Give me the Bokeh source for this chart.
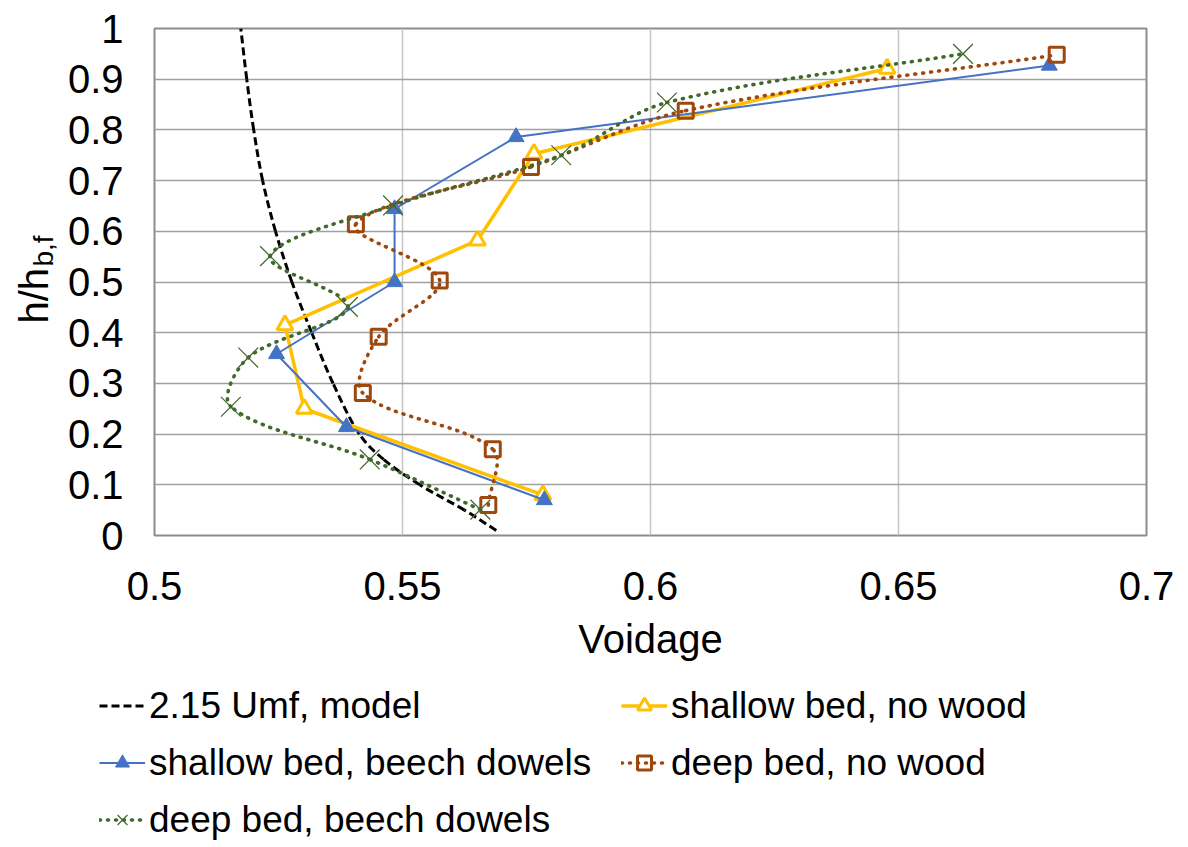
import numpy as np
from bokeh.plotting import figure
from bokeh.layouts import column, row
from bokeh.models import Range1d, FixedTicker, Legend, LegendItem, Label, ColumnDataSource
from bokeh.embed import file_html
from bokeh.resources import INLINE

# ---------------- data ----------------
x_ticks = [0.5, 0.55, 0.6, 0.65, 0.7]
x_tick_labels = ["0.5", "0.55", "0.6", "0.65", "0.7"]
y_ticks = [0, 0.1, 0.2, 0.3, 0.4, 0.5, 0.6, 0.7, 0.8, 0.9, 1.0]
y_tick_labels = ["0", "0.1", "0.2", "0.3", "0.4", "0.5", "0.6", "0.7", "0.8", "0.9", "1"]

model_voidage = [0.5689, 0.5625, 0.5535, 0.5462, 0.5413, 0.5360, 0.5317, 0.5277, 0.5244, 0.5218, 0.5200, 0.5186, 0.5174]
model_h = [0.010, 0.050, 0.100, 0.150, 0.200, 0.300, 0.400, 0.500, 0.600, 0.700, 0.800, 0.900, 1.000]

snw_voidage = [0.5783, 0.5302, 0.5263, 0.5651, 0.5765, 0.6477]
snw_h = [0.080, 0.250, 0.415, 0.582, 0.753, 0.921]

sbd_voidage = [0.5786, 0.5387, 0.5246, 0.5484, 0.5484, 0.5729, 0.6804]
sbd_h = [0.070, 0.214, 0.358, 0.500, 0.644, 0.786, 0.927]

dnw_voidage = [0.5673, 0.5682, 0.5420, 0.5452, 0.5575, 0.5406, 0.5759, 0.6071, 0.6819]
dnw_h = [0.060, 0.170, 0.281, 0.392, 0.503, 0.614, 0.727, 0.838, 0.948]

dbd_voidage = [0.5657, 0.5434, 0.5154, 0.5189, 0.5390, 0.5233, 0.5481, 0.5820, 0.6033, 0.6630]
dbd_h = [0.051, 0.150, 0.254, 0.351, 0.451, 0.551, 0.651, 0.750, 0.854, 0.950]

labels = ["2.15 Umf, model", "shallow bed, no wood", "shallow bed, beech dowels",
          "deep bed, no wood", "deep bed, beech dowels"]

X_MIN, X_MAX = 0.5, 0.7
Y_MIN, Y_MAX = 0.0, 1.0

FONT = "Liberation Sans"
C_MODEL = "#000000"
C_SNW = "#FFC000"
C_SBD = "#4472C4"
C_DNW = "#9E480E"
C_DBD = "#43682B"

# ---------------- layout sizes ----------------
TOTAL_W, TOTAL_H = 1180, 845
YLAB_W = 64
MAIN_H = 675
BORDER_L, BORDER_R, BORDER_T = 89, 34, 28
BORDER_B = 140
MAIN_W = TOTAL_W - YLAB_W
FRAME_W = MAIN_W - BORDER_L - BORDER_R
FRAME_H = MAIN_H - BORDER_T - BORDER_B
KX = FRAME_W / (X_MAX - X_MIN)
KY = FRAME_H / (Y_MAX - Y_MIN)


def smooth_source(xs, ys):
    """Excel-like smoothed line: cubic Bezier control points from the data points
    (chord-length-weighted tangents, measured in screen proportions)."""
    xs = np.asarray(xs, float)
    ys = np.asarray(ys, float)
    n = len(xs)
    xp = np.concatenate([[xs[0]], xs, [xs[-1]]])
    yp = np.concatenate([[ys[0]], ys, [ys[-1]]])
    d = np.hypot(np.diff(xp) * KX, np.diff(yp) * KY)
    cx0, cy0, cx1, cy1 = [], [], [], []
    for i in range(n - 1):
        k = i + 1
        d01, d12, d23 = d[k - 1], d[k], d[k + 1]
        f1 = d12 / (d01 + d12) / 3.0 if d01 + d12 > 0 else 0.0
        f2 = d12 / (d12 + d23) / 3.0 if d12 + d23 > 0 else 0.0
        cx0.append(xp[k] + (xp[k + 1] - xp[k - 1]) * f1)
        cy0.append(yp[k] + (yp[k + 1] - yp[k - 1]) * f1)
        cx1.append(xp[k + 1] - (xp[k + 2] - xp[k]) * f2)
        cy1.append(yp[k + 1] - (yp[k + 2] - yp[k]) * f2)
    return ColumnDataSource(dict(x0=xs[:-1], y0=ys[:-1], x1=xs[1:], y1=ys[1:],
                                 cx0=cx0, cy0=cy0, cx1=cx1, cy1=cy1))


# ---------------- main plot ----------------
p = figure(width=MAIN_W, height=MAIN_H, output_backend="svg", toolbar_location=None,
           x_range=Range1d(X_MIN, X_MAX), y_range=Range1d(Y_MIN, Y_MAX),
           min_border_left=BORDER_L, min_border_right=BORDER_R,
           min_border_top=BORDER_T, min_border_bottom=BORDER_B)
p.background_fill_color = "white"
p.border_fill_color = "white"
p.outline_line_color = "#8C8C8C"
p.outline_line_width = 2

p.xaxis.ticker = FixedTicker(ticks=x_ticks)
p.yaxis.ticker = FixedTicker(ticks=y_ticks)
p.xaxis.major_label_overrides = {t: l for t, l in zip(x_ticks, x_tick_labels)}
p.yaxis.major_label_overrides = {t: l for t, l in zip(y_ticks, y_tick_labels)}
for ax in (p.xaxis[0], p.yaxis[0]):
    ax.axis_line_color = None
    ax.major_tick_line_color = None
    ax.minor_tick_line_color = None
    ax.major_tick_out = 0
    ax.major_tick_in = 0
    ax.major_label_text_font = FONT
    ax.major_label_text_font_size = "40px"
    ax.major_label_text_color = "black"
p.xaxis.major_label_standoff = 36
p.yaxis.major_label_standoff = 31
p.xaxis.axis_label = "Voidage"
p.xaxis.axis_label_text_font = FONT
p.xaxis.axis_label_text_font_size = "40px"
p.xaxis.axis_label_text_font_style = "normal"
p.xaxis.axis_label_text_color = "black"
p.xaxis.axis_label_standoff = 14

p.xgrid.grid_line_color = "#C4C4C4"
p.xgrid.grid_line_width = 1.5
p.ygrid.grid_line_color = "#A0A0A0"
p.ygrid.grid_line_width = 1.5

BEZ = dict(x0="x0", y0="y0", x1="x1", y1="y1", cx0="cx0", cy0="cy0", cx1="cx1", cy1="cy1")

STY_MODEL = dict(line_color=C_MODEL, line_width=3, line_dash="8 4")
STY_SNW_L = dict(line_color=C_SNW, line_width=3.5)
STY_SNW_M = dict(marker="triangle", line_color=C_SNW, line_width=3, fill_color="white")
STY_SBD_L = dict(line_color=C_SBD, line_width=2)
STY_SBD_M = dict(marker="triangle", line_color=C_SBD, line_width=1, fill_color=C_SBD)
STY_DNW_L = dict(line_color=C_DNW, line_width=3.6, line_dash="1 7", line_cap="round")
STY_DNW_M = dict(marker="square", line_color=C_DNW, line_width=3, fill_color=None)
STY_DBD_L = dict(line_color=C_DBD, line_width=3.6, line_dash="1 7", line_cap="round")
STY_DBD_M = dict(marker="x", line_color=C_DBD, line_width=1.25)

p.bezier(source=smooth_source(model_voidage, model_h), **BEZ, **STY_MODEL)
p.line(snw_voidage, snw_h, **STY_SNW_L)
p.scatter(snw_voidage, snw_h, size=16, **STY_SNW_M)
p.line(sbd_voidage, sbd_h, **STY_SBD_L)
p.scatter(sbd_voidage, sbd_h, size=16, **STY_SBD_M)
p.bezier(source=smooth_source(dnw_voidage, dnw_h), **BEZ, **STY_DNW_L)
p.scatter(dnw_voidage, dnw_h, size=15, **STY_DNW_M)
p.bezier(source=smooth_source(dbd_voidage, dbd_h), **BEZ, **STY_DBD_L)
p.scatter(dbd_voidage, dbd_h, size=28, **STY_DBD_M)

# ---------------- y-axis title (h/h with subscript b,f) ----------------
# this panel's frame is aligned with the main frame (screen y measured from frame bottom)
py_ = figure(width=YLAB_W, height=MAIN_H, output_backend="svg", toolbar_location=None,
             x_range=Range1d(0, 1), y_range=Range1d(0, 1),
             min_border=0, min_border_left=0, min_border_right=0,
             min_border_top=0, min_border_bottom=0)
py_.axis.visible = False
py_.grid.visible = False
py_.outline_line_color = None
py_.background_fill_color = "white"
py_.border_fill_color = "white"
py_.add_layout(Label(x=33, y=212, x_units="screen", y_units="screen", text="h/h",
                     angle=np.pi / 2, text_font=FONT, text_font_size="40px", text_color="black",
                     text_align="left", text_baseline="alphabetic"))
py_.add_layout(Label(x=43, y=269, x_units="screen", y_units="screen", text="b,f",
                     angle=np.pi / 2, text_font=FONT, text_font_size="28px", text_color="black",
                     text_align="left", text_baseline="alphabetic"))

# ---------------- legend panel ----------------
LEG_H = TOTAL_H - MAIN_H
pl = figure(width=TOTAL_W, height=LEG_H, output_backend="svg", toolbar_location=None,
            x_range=Range1d(10, 11), y_range=Range1d(10, 11),
            min_border=0, min_border_left=0, min_border_right=0,
            min_border_top=0, min_border_bottom=0)
pl.axis.visible = False
pl.grid.visible = False
pl.outline_line_color = None
pl.background_fill_color = "white"
pl.border_fill_color = "white"

# legend-sample renderers (their data lie outside this panel's ranges, so only the legend shows)
g_model = pl.line(model_voidage, model_h, **STY_MODEL)
g_snw_l = pl.line(snw_voidage, snw_h, **STY_SNW_L)
g_snw_m = pl.scatter(snw_voidage, snw_h, **STY_SNW_M)
g_sbd_l = pl.line(sbd_voidage, sbd_h, **STY_SBD_L)
g_sbd_m = pl.scatter(sbd_voidage, sbd_h, **STY_SBD_M)
g_dnw_l = pl.line(dnw_voidage, dnw_h, **STY_DNW_L)
g_dnw_m = pl.scatter(dnw_voidage, dnw_h, **STY_DNW_M)
g_dbd_l = pl.line(dbd_voidage, dbd_h, **STY_DBD_L)
g_dbd_m = pl.scatter(dbd_voidage, dbd_h, **STY_DBD_M)


def make_legend(items, loc):
    return Legend(items=items, location=loc, orientation="vertical",
                  padding=0, margin=0, spacing=12, glyph_width=46, glyph_height=35,
                  label_height=45, label_standoff=4,
                  label_text_font=FONT, label_text_font_size="37px", label_text_color="black",
                  border_line_color=None, background_fill_alpha=0)


pl.add_layout(make_legend([
    LegendItem(label=labels[0], renderers=[g_model]),
    LegendItem(label=labels[2], renderers=[g_sbd_l, g_sbd_m]),
    LegendItem(label=labels[4], renderers=[g_dbd_l, g_dbd_m]),
], (99, 3)), "center")
pl.add_layout(make_legend([
    LegendItem(label=labels[1], renderers=[g_snw_l, g_snw_m]),
    LegendItem(label=labels[3], renderers=[g_dnw_l, g_dnw_m]),
], (621, 60)), "center")

layout = column(row(py_, p, spacing=0), pl, spacing=0)

open("out.html", "w").write(file_html(layout, INLINE))
